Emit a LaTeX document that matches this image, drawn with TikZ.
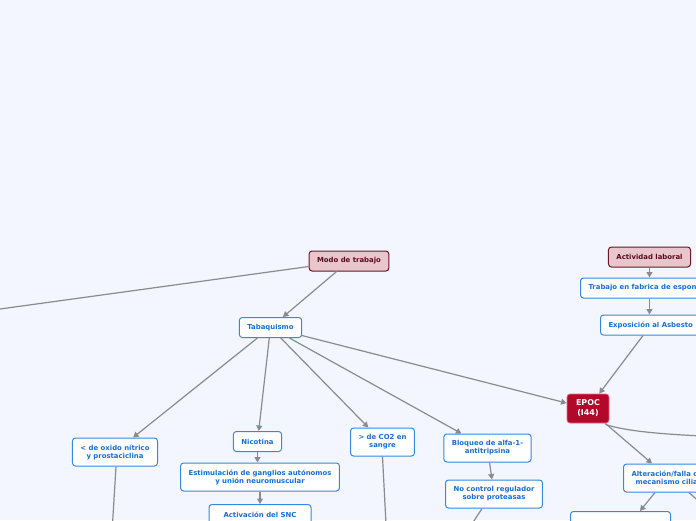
\documentclass[tikz,border=0pt]{standalone}
\usepackage{fontspec}
\setmainfont{DejaVu Sans}
\usetikzlibrary{arrows.meta}
\definecolor{bgcol}{RGB}{243,246,254}
\definecolor{bluebd}{RGB}{52,136,224}
\definecolor{bluetx}{RGB}{24,110,212}
\definecolor{pinkfill}{RGB}{232,198,204}
\definecolor{pinkbd}{RGB}{110,20,38}
\definecolor{pinktx}{RGB}{90,10,28}
\definecolor{epocfill}{RGB}{178,8,42}
\definecolor{epocbd}{RGB}{225,110,130}
\definecolor{linecol}{RGB}{138,138,146}
\begin{document}
\begin{tikzpicture}[x=1pt,y=-1pt,
  box/.style={draw=bluebd, fill=white, line width=1pt, rounded corners=3pt,
    text=bluetx, font=\fontsize{6.9}{8}\selectfont\bfseries, align=center,
    inner xsep=8pt, inner ysep=2pt, minimum height=20pt},
  twol/.style={minimum height=28pt},
  mainbox/.style={box, draw=pinkbd, fill=pinkfill, text=pinktx},
  epocbox/.style={draw=epocbd, fill=epocfill, line width=.8pt, rounded corners=3pt,
    text=white, font=\fontsize{8}{10}\selectfont\bfseries, align=center,
    minimum width=42pt, minimum height=29pt, inner sep=2pt},
  conn/.style={draw=linecol, line width=1.2pt},
  arr/.style={conn, -{Triangle[length=5.5pt,width=6pt]}}
]
\useasboundingbox (0,0) rectangle (696,520);
\fill[bgcol] (0,0) rectangle (696,520);
\begin{scope}
\clip (0,0) rectangle (696,520);
% nodes
\node[mainbox] (modo) at (349,261) {Modo de trabajo};
\node[mainbox] (act) at (649.5,257) {Actividad laboral};
\node[box, anchor=west] (trab) at (580,288) {Trabajo en fabrica de espon};
\node[box, anchor=west] (expo) at (600,325) {Exposición al Asbesto};
\node[box] (tab) at (270.5,327.5) {Tabaquismo};
\node[epocbox] (epoc) at (588,408.5) {EPOC\\(I44)};
\node[box, twol] (oxido) at (115,452) {< de oxido nítrico\\y prostaciclina};
\node[box] (nic) at (257.5,441.5) {Nicotina};
\node[box, twol] (estim) at (260,477) {Estimulación de ganglios autónomos\\y unión neuromuscular};
\node[box, twol, anchor=north, minimum width=102pt] (activ) at (260,504) {Activación del SNC\\\mbox{}};
\node[box, twol] (co2) at (382.5,442) {> de CO2 en\\sangre};
\node[box, twol] (bloq) at (487.5,448) {Bloqueo de alfa-1-\\antitripsina};
\node[box, twol] (nocon) at (494,494) {No control regulador\\sobre proteasas};
\node[box, twol, anchor=west] (alt) at (623,478) {Alteración/falla del\\mecanismo ciliar};
\node[box, twol, anchor=north west, minimum width=100pt] (bot) at (570,511) {};
% free ends
\coordinate (offL) at (0,309);
\coordinate (offR) at (702,436);
\coordinate (offAlt) at (704,506);
\coordinate (offOx) at (112.5,524);
\coordinate (offCo) at (386,524);
\coordinate (offNc) at (472,524);
% connectors
\draw[conn] (modo) -- (offL);
\draw[arr] (modo) -- (tab);
\draw[arr] (act.south) -- (act.south |- trab.north);
\draw[arr] (act.south |- trab.south) -- (act.south |- expo.north);
\draw[arr] ([xshift=43pt]expo.south west) -- (epoc);
\draw[arr] (tab) -- (epoc);
\draw[arr] (epoc) -- ([xshift=29pt]alt.north west);
\draw[conn] ([xshift=-4pt,yshift=-1pt]epoc.south east) .. controls (625,431) and (660,434) .. (offR);
\draw[arr] ([xshift=32pt]alt.south west) -- ([xshift=70pt]bot.north west);
\draw[conn] ([xshift=66pt]alt.south west) -- (offAlt);
\draw[arr] (tab) -- (oxido);
\draw[arr] (tab) -- (nic);
\draw[arr] (tab) -- (co2);
\draw[arr] (tab) -- (bloq);
\draw[arr] (nic.south) -- (nic.south |- estim.north);
\draw[arr] (estim.south) -- (activ.north);
\draw[conn] ([xshift=1pt]oxido.south) -- (offOx);
\draw[conn] (co2.south) -- (offCo);
\draw[arr] (bloq) -- (nocon);
\draw[conn] ([xshift=-12pt]nocon.south) -- (offNc);
\end{scope}
\end{tikzpicture}
\end{document}
